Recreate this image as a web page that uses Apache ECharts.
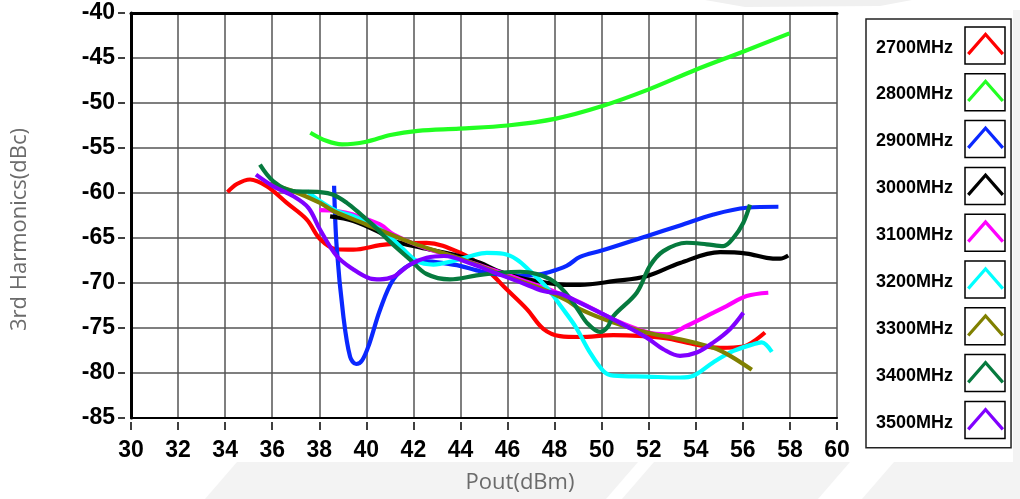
<!DOCTYPE html>
<html>
<head>
<meta charset="utf-8">
<title>3rd Harmonics vs Pout</title>
<script src="https://cdn.jsdelivr.net/npm/echarts@6/dist/echarts.min.js"></script>
<style>
  html, body { margin: 0; padding: 0; background: #ffffff; }
  #chart { width: 1020px; height: 499px; }
</style>
</head>
<body>
<div id="chart"></div>
<script>
// Frequencies shown in the legend
const bandNames = ['2700MHz', '2800MHz', '2900MHz', '3000MHz', '3100MHz', '3200MHz', '3300MHz', '3400MHz', '3500MHz'];
const bandColors = ['#ff0000', '#22ff22', '#0a28ff', '#000000', '#ff00ff', '#00ffff', '#808000', '#067a3e', '#8000ff'];

// Axis ranges
const xRange = { min: 30, max: 60, step: 2 };
const yRange = { min: -85, max: -40, step: 5 };

// Measured 3rd harmonic level (dBc) against output power (dBm), one list per frequency
const h2700 = [[34.1,-59.9],[34.5,-59.0],[35.06,-58.5],[35.77,-59.26],[36.62,-61.1],[37.47,-62.95],[38.03,-65.1],[38.74,-66.25],[39.45,-66.3],[40.58,-65.8],[41.15,-65.65],[42.56,-65.54],[43.98,-66.64],[45.1,-68.5],[45.96,-70.7],[46.82,-72.9],[47.52,-75.1],[48.23,-75.9],[49.08,-76.0],[50.5,-75.8],[52.62,-76.1],[54.04,-76.85],[55.03,-77.2],[56.02,-77.05],[56.45,-76.5],[56.94,-75.5]];
const h2800 = [[37.62,-53.3],[38.3,-54.2],[38.97,-54.6],[40.0,-54.3],[41.02,-53.55],[42.19,-53.1],[43.95,-52.85],[46.0,-52.5],[48.06,-51.73],[49.96,-50.4],[52.03,-48.46],[54.0,-46.3],[56.03,-44.27],[57.98,-42.26]];
const h2900 = [[38.63,-59.2],[38.74,-66.0],[39.02,-73.6],[39.31,-78.2],[39.57,-79.0],[39.82,-78.6],[40.12,-76.8],[40.58,-73.0],[41.15,-69.6],[41.86,-67.95],[42.57,-67.6],[43.28,-67.8],[43.98,-68.1],[44.69,-68.6],[45.4,-69.0],[46.53,-69.2],[47.2,-69.1],[47.67,-68.86],[48.51,-68.1],[49.08,-67.1],[50.0,-66.4],[51.91,-64.8],[53.33,-63.6],[54.75,-62.39],[56.16,-61.64],[57.51,-61.53]];
const h3000 = [[38.46,-62.6],[39.45,-63.1],[40.58,-64.4],[41.15,-65.3],[42.28,-66.05],[43.7,-66.83],[44.83,-67.75],[45.54,-68.6],[46.53,-69.42],[47.67,-69.97],[48.5,-70.2],[49.08,-70.2],[50.5,-69.8],[51.91,-69.25],[53.33,-67.77],[55.03,-66.58],[56.16,-66.73],[57.01,-67.2],[57.58,-67.3],[57.93,-66.95]];
const h3100 = [[38.0,-61.9],[38.74,-62.0],[39.45,-62.4],[40.58,-63.5],[41.15,-64.6],[42.28,-65.9],[43.7,-67.1],[45.12,-68.3],[46.53,-69.6],[47.95,-70.9],[49.08,-72.15],[50.5,-74.04],[51.91,-75.44],[52.77,-75.7],[53.61,-74.78],[54.75,-73.3],[55.31,-72.56],[56.16,-71.45],[57.08,-71.08]];
const h3200 = [[37.47,-59.8],[38.03,-60.9],[38.74,-62.0],[39.45,-62.57],[40.58,-64.0],[41.43,-65.9],[42.14,-67.55],[42.85,-67.95],[43.7,-67.55],[44.4,-67.03],[45.12,-66.65],[45.82,-66.75],[46.39,-67.38],[46.96,-68.68],[47.67,-70.52],[48.3,-72.7],[48.9,-74.9],[49.5,-77.7],[50.07,-79.77],[50.5,-80.3],[51.91,-80.4],[53.33,-80.5],[53.9,-80.3],[54.75,-78.8],[55.6,-77.55],[56.45,-76.8],[56.8,-76.6],[57.23,-77.66]];
const h3300 = [[35.9,-59.0],[36.9,-59.8],[38.03,-61.1],[38.6,-62.0],[40.0,-63.5],[42.0,-65.6],[44.0,-67.3],[46.0,-69.3],[47.5,-70.7],[48.5,-71.9],[49.08,-72.9],[50.5,-74.4],[51.91,-75.5],[53.33,-76.25],[54.75,-77.2],[55.46,-78.1],[56.38,-79.65]];
const h3400 = [[35.48,-56.85],[36.05,-58.7],[36.9,-59.8],[38.03,-59.9],[38.6,-60.2],[39.17,-61.1],[39.73,-62.3],[40.3,-63.6],[41.0,-65.4],[41.86,-67.4],[42.56,-69.0],[43.55,-69.6],[44.69,-69.16],[45.68,-68.86],[46.53,-68.75],[47.24,-69.0],[47.95,-69.8],[48.5,-71.2],[48.95,-72.8],[49.4,-74.5],[49.93,-75.44],[50.25,-74.9],[50.5,-73.67],[51.49,-71.08],[52.05,-68.1],[52.62,-66.46],[53.61,-65.53],[54.46,-65.7],[55.17,-65.9],[55.6,-64.98],[56.02,-63.3],[56.3,-61.3]];
const h3500 = [[35.31,-57.96],[36.05,-59.26],[36.9,-60.36],[37.54,-61.65],[38.03,-64.06],[38.74,-67.0],[39.45,-68.5],[40.16,-69.5],[40.58,-69.6],[41.15,-69.3],[41.86,-67.94],[42.56,-67.2],[43.3,-67.0],[44.5,-67.9],[45.4,-68.8],[46.53,-69.9],[47.52,-70.9],[48.23,-71.2],[49.08,-72.2],[50.5,-74.04],[51.91,-76.07],[52.62,-77.36],[53.33,-78.1],[54.04,-77.73],[54.75,-76.6],[55.46,-75.1],[56.02,-73.3]];

const curves = [h2700, h2800, h2900, h3000, h3100, h3200, h3300, h3400, h3500];

const tickFont = "'Liberation Sans', Arial, sans-serif";
const nameFont = "'Open Sans', 'Noto Sans', sans-serif";

const chart = echarts.init(document.getElementById('chart'), null, { renderer: 'canvas' });

const series = curves.map((pts, i) => ({
  name: bandNames[i],
  type: 'line',
  data: pts,
  smooth: 0.35,
  symbol: 'none',
  xAxisIndex: 0,
  yAxisIndex: 0,
  lineStyle: { color: bandColors[i], width: 4.2 },
  itemStyle: { color: bandColors[i] },
  z: 3
}));

// boxes framing each legend swatch
const swatchBoxes = bandNames.map((n, i) => ({
  type: 'rect',
  shape: { x: 965, y: 27 + i * 46.8, width: 40, height: 37 },
  style: { fill: 'none', stroke: '#000', lineWidth: 1.5 },
  z: 20
}));

// faint watermark bands behind the chart
const watermark = [
  { type: 'polygon', shape: { points: [[205, 499], [237, 462], [638, 462], [606, 499]] }, style: { fill: '#f3f3f3' }, z: -10 },
  { type: 'polygon', shape: { points: [[622, 499], [654, 462], [850, 462], [818, 499]] }, style: { fill: '#f3f3f3' }, z: -10 },
  { type: 'polygon', shape: { points: [[862, 499], [894, 462], [1020, 462], [1020, 499]] }, style: { fill: '#f3f3f3' }, z: -10 },
  { type: 'rect', shape: { x: 1013, y: 10, width: 7, height: 460 }, style: { fill: '#f3f3f3' }, z: -10 },
  { type: 'polygon', shape: { points: [[705, 0], [912, 0], [880, 6], [745, 7]] }, style: { fill: '#f0f0f0' }, z: -10 }
];

const option = {
  animation: false,
  backgroundColor: '#ffffff',
  grid: { left: 131, right: 183, top: 13, bottom: 80, containLabel: false },
  legend: {
    orient: 'vertical',
    left: 866,
    top: 19,
    align: 'right',
    itemWidth: 37,
    itemHeight: 24,
    itemGap: 22.3,
    icon: 'path://M0 21 L18.5 0 L37 21 L34.6 23.2 L18.5 4.8 L2.4 23.2 Z',
    itemStyle: { borderWidth: 0 },
    padding: [13, 7, 16, 10],
    borderColor: '#222',
    borderWidth: 1.5,
    formatter: '{t|{name}}',
    textStyle: {
      fontFamily: tickFont, fontWeight: 'bold', fontSize: 18, color: '#000', padding: [0, 9, 0, 0],
      rich: { t: { fontFamily: tickFont, fontWeight: 'bold', fontSize: 18, color: '#000', padding: [8, 0, 0, 0] } }
    },
    data: bandNames
  },
  xAxis: [
    {
      type: 'value', min: xRange.min, max: xRange.max, interval: xRange.step,
      axisLine: { show: true, onZero: false, lineStyle: { color: '#000', width: 2 } },
      axisTick: { show: false }, axisLabel: { show: false },
      splitLine: { show: true, lineStyle: { color: '#555', width: 1.5 } }
    },
    {
      type: 'value', position: 'top', min: xRange.min, max: xRange.max, interval: xRange.step,
      axisLine: { show: true, onZero: false, lineStyle: { color: '#000', width: 3 } },
      axisTick: { show: false }, axisLabel: { show: false }, splitLine: { show: false }
    },
    {
      type: 'value', position: 'bottom', offset: 4, min: xRange.min, max: xRange.max, interval: xRange.step,
      axisLine: { show: false, onZero: false },
      axisTick: { show: true, length: 8, lineStyle: { color: '#000', width: 1.5 } },
      axisLabel: { show: true, margin: 17, color: '#000', fontSize: 23, fontWeight: 'bold', fontFamily: tickFont },
      splitLine: { show: false },
      name: 'Pout(dBm)', nameLocation: 'middle', nameGap: 50,
      nameTextStyle: { color: '#6b6b6b', fontSize: 22, fontFamily: nameFont, padding: [0, 0, 0, 72] }
    }
  ],
  yAxis: [
    {
      type: 'value', min: yRange.min, max: yRange.max, interval: yRange.step,
      axisLine: { show: true, onZero: false, lineStyle: { color: '#000', width: 3 } },
      axisTick: { show: false }, axisLabel: { show: false },
      splitLine: { show: true, lineStyle: { color: '#555', width: 1.5 } }
    },
    {
      type: 'value', position: 'left', offset: 6, min: yRange.min, max: yRange.max, interval: yRange.step,
      axisLine: { show: false, onZero: false },
      axisTick: { show: true, length: 7, lineStyle: { color: '#000', width: 1.5 } },
      axisLabel: { show: true, margin: 10, color: '#000', fontSize: 23, fontWeight: 'bold', fontFamily: tickFont },
      splitLine: { show: false },
      name: '3rd Harmonics(dBc)', nameLocation: 'middle', nameGap: 94,
      nameTextStyle: { color: '#6b6b6b', fontSize: 22, fontFamily: nameFont, padding: [0, 28, 0, 0] }
    }
  ],
  graphic: watermark.concat(swatchBoxes),
  series: series
};

chart.setOption(option);
</script>
</body>
</html>
